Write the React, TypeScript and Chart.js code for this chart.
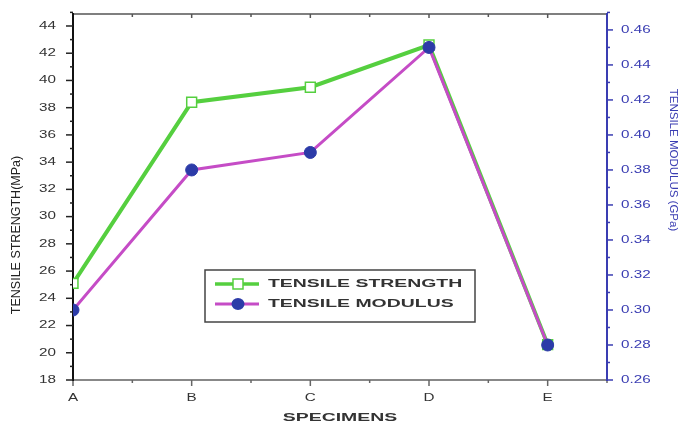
import { useEffect, useRef } from 'react';
import { Chart, registerables } from 'chart.js';
Chart.register(...registerables);

const categories = ['A', 'B', 'C', 'D', 'E'];
const tensileStrength = [25.1, 38.4, 39.5, 42.6, 20.6];
const tensileModulus = [0.30, 0.38, 0.39, 0.45, 0.28];
const strengthTicks = [18, 20, 22, 24, 26, 28, 30, 32, 34, 36, 38, 40, 42, 44];
const modulusTicks = [0.26, 0.28, 0.30, 0.32, 0.34, 0.36, 0.38, 0.40, 0.42, 0.44, 0.46];
const seriesNames = ['TENSILE STRENGTH', 'TENSILE MODULUS'];

const GREEN = '#55cf3f';
const MAGENTA = '#c54cc6';
const BLUE = '#2c3ba8';
const AXIS_BLUE = '#3a3db2';

function stretchText(ctx: CanvasRenderingContext2D, text: string, x: number, y: number, font: string, color: string, sx: number, align: CanvasTextAlign, rot = 0) {
  ctx.save();
  ctx.translate(x, y);
  if (rot) ctx.rotate(rot);
  ctx.scale(sx, 1);
  ctx.font = font;
  ctx.fillStyle = color;
  ctx.textAlign = align;
  ctx.textBaseline = 'middle';
  ctx.fillText(text, 0, 0);
  ctx.restore();
}

function line(ctx: CanvasRenderingContext2D, x1: number, y1: number, x2: number, y2: number, color: string, w: number) {
  ctx.save();
  ctx.strokeStyle = color;
  ctx.lineWidth = w;
  ctx.beginPath();
  ctx.moveTo(x1, y1);
  ctx.lineTo(x2, y2);
  ctx.stroke();
  ctx.restore();
}

const axesPlugin = {
  id: 'axesPlugin',
  beforeDatasetsDraw(chart: any) {
    const ctx = chart.ctx as CanvasRenderingContext2D;
    const ca = chart.chartArea;
    const x = chart.scales.x;
    const y = chart.scales.y;
    const y1 = chart.scales.y1;
    // top border
    line(ctx, ca.left, ca.top, ca.right, ca.top, '#555', 1.5);
    for (let v = 0.5; v < 4.6; v += 0.5) {
      const px = x.getPixelForValue(v);
      line(ctx, px, ca.top, px, ca.top + (Number.isInteger(v) ? 4 : 3), '#555', 1.5);
    }
    // bottom axis
    line(ctx, ca.left, ca.bottom, ca.right, ca.bottom, '#888', 2);
    for (let v = 0; v < 4.6; v += 0.5) {
      const px = x.getPixelForValue(v);
      line(ctx, px, ca.bottom, px, ca.bottom + (Number.isInteger(v) ? 6 : 3), '#666', 1.5);
    }
    x.ticks.forEach((t: any) => {
      const px = x.getPixelForValue(t.value);
      stretchText(ctx, categories[t.value], px, 398, '10.5px "Liberation Sans", Arial, sans-serif', '#333', 1.45, 'center');
    });
    // left axis
    line(ctx, ca.left, ca.top - 1, ca.left, ca.bottom + 1, '#111', 2);
    y.ticks.forEach((t: any) => {
      const py = y.getPixelForValue(t.value);
      line(ctx, ca.left - 7, py, ca.left, py, '#222', 1.5);
      line(ctx, ca.left - 3, y.getPixelForValue(t.value + 1), ca.left, y.getPixelForValue(t.value + 1), '#222', 1.5);
      stretchText(ctx, String(t.value), ca.left - 17, py, '10.5px "Liberation Sans", Arial, sans-serif', '#333', 1.45, 'right');
    });
    // right axis
    line(ctx, ca.right, ca.top - 1, ca.right, ca.bottom + 1, AXIS_BLUE, 2);
    y1.ticks.forEach((t: any) => {
      const py = y1.getPixelForValue(t.value);
      line(ctx, ca.right, py, ca.right + 6, py, AXIS_BLUE, 1.5);
      const pm = y1.getPixelForValue(t.value + 0.01);
      line(ctx, ca.right, pm, ca.right + 3, pm, AXIS_BLUE, 1.5);
      stretchText(ctx, t.value.toFixed(2), ca.right + 14, py, '10.5px "Liberation Sans", Arial, sans-serif', AXIS_BLUE, 1.45, 'left');
    });
  },
  afterDraw(chart: any) {
    const ctx = chart.ctx as CanvasRenderingContext2D;
    // axis titles
    stretchText(ctx, 'TENSILE STRENGTH(MPa)', 17, 235, '12.5px "Liberation Sans", Arial, sans-serif', '#222', 1, 'center', -Math.PI / 2);
    stretchText(ctx, 'TENSILE MODULUS (GPa)', 673, 160, '11.5px "Liberation Sans", Arial, sans-serif', AXIS_BLUE, 1, 'center', Math.PI / 2);
    stretchText(ctx, 'SPECIMENS', 340, 418, 'bold 10.5px "Liberation Sans", Arial, sans-serif', '#333', 1.85, 'center');
    // legend
    ctx.save();
    ctx.fillStyle = '#fff';
    ctx.fillRect(205, 270, 270, 52);
    ctx.strokeStyle = '#444';
    ctx.lineWidth = 1.5;
    ctx.strokeRect(205, 270, 270, 52);
    ctx.restore();
    const rows = [
      { y: 284, color: GREEN, w: 3.5 },
      { y: 304, color: MAGENTA, w: 3 },
    ];
    rows.forEach((r, i) => {
      line(ctx, 215, r.y, 259, r.y, r.color, r.w);
      ctx.save();
      if (i === 0) {
        ctx.fillStyle = '#fff';
        ctx.fillRect(233, r.y - 5, 10, 10);
        ctx.strokeStyle = GREEN;
        ctx.lineWidth = 1.5;
        ctx.strokeRect(233, r.y - 5, 10, 10);
      } else {
        ctx.fillStyle = BLUE;
        ctx.beginPath();
        ctx.ellipse(238, r.y, 6.5, 6, 0, 0, Math.PI * 2);
        ctx.fill();
      }
      ctx.restore();
      stretchText(ctx, seriesNames[i], 268, r.y, 'bold 10.5px "Liberation Sans", Arial, sans-serif', '#333', 1.85, 'left');
    });
  },
};

export default function App() {
  const ref = useRef<HTMLCanvasElement | null>(null);
  useEffect(() => {
    if (!ref.current) return;
    const chart = new Chart(ref.current, {
      type: 'line',
      data: {
        datasets: [
          {
            label: seriesNames[0],
            data: tensileStrength.map((v, i) => ({ x: i, y: v })),
            yAxisID: 'y',
            borderColor: GREEN,
            borderWidth: 4,
            pointStyle: 'rect',
            pointRadius: 7,
            pointBackgroundColor: '#fff',
            pointBorderColor: GREEN,
            pointBorderWidth: 1.5,
            order: 1,
          },
          {
            label: seriesNames[1],
            data: tensileModulus.map((v, i) => ({ x: i, y: v })),
            yAxisID: 'y1',
            borderColor: MAGENTA,
            borderWidth: 3,
            pointStyle: 'circle',
            pointRadius: 6,
            pointBackgroundColor: BLUE,
            pointBorderColor: BLUE,
            pointBorderWidth: 1,
            order: 0,
          },
        ],
      },
      options: {
        animation: false,
        responsive: false,
        layout: { padding: { top: 14, left: 0, right: 0, bottom: 0 } },
        plugins: { legend: { display: false }, tooltip: { enabled: false } },
        scales: {
          x: {
            type: 'linear',
            min: 0,
            max: 4.5,
            grid: { display: false },
            border: { display: false },
            ticks: { display: false },
            afterBuildTicks: (s: any) => { s.ticks = categories.map((_, i) => ({ value: i })); },
            afterFit: (s: any) => { s.height = 47; },
          },
          y: {
            type: 'linear',
            position: 'left',
            min: 18,
            max: 44.88,
            grid: { display: false },
            border: { display: false },
            ticks: { display: false },
            afterBuildTicks: (s: any) => { s.ticks = strengthTicks.map((v) => ({ value: v })); },
            afterFit: (s: any) => { s.width = 73; },
          },
          y1: {
            type: 'linear',
            position: 'right',
            min: 0.26,
            max: 0.4691,
            grid: { display: false },
            border: { display: false },
            ticks: { display: false },
            afterBuildTicks: (s: any) => { s.ticks = modulusTicks.map((v) => ({ value: v })); },
            afterFit: (s: any) => { s.width = 75; },
          },
        },
      },
      plugins: [axesPlugin],
    } as any);
    return () => chart.destroy();
  }, []);
  return (
    <div style={{ position: 'fixed', left: 0, top: 0, width: 682, height: 427, background: '#fff' }}>
      <canvas ref={ref} width={682} height={427} style={{ display: 'block', width: 682, height: 427 }} />
    </div>
  );
}
